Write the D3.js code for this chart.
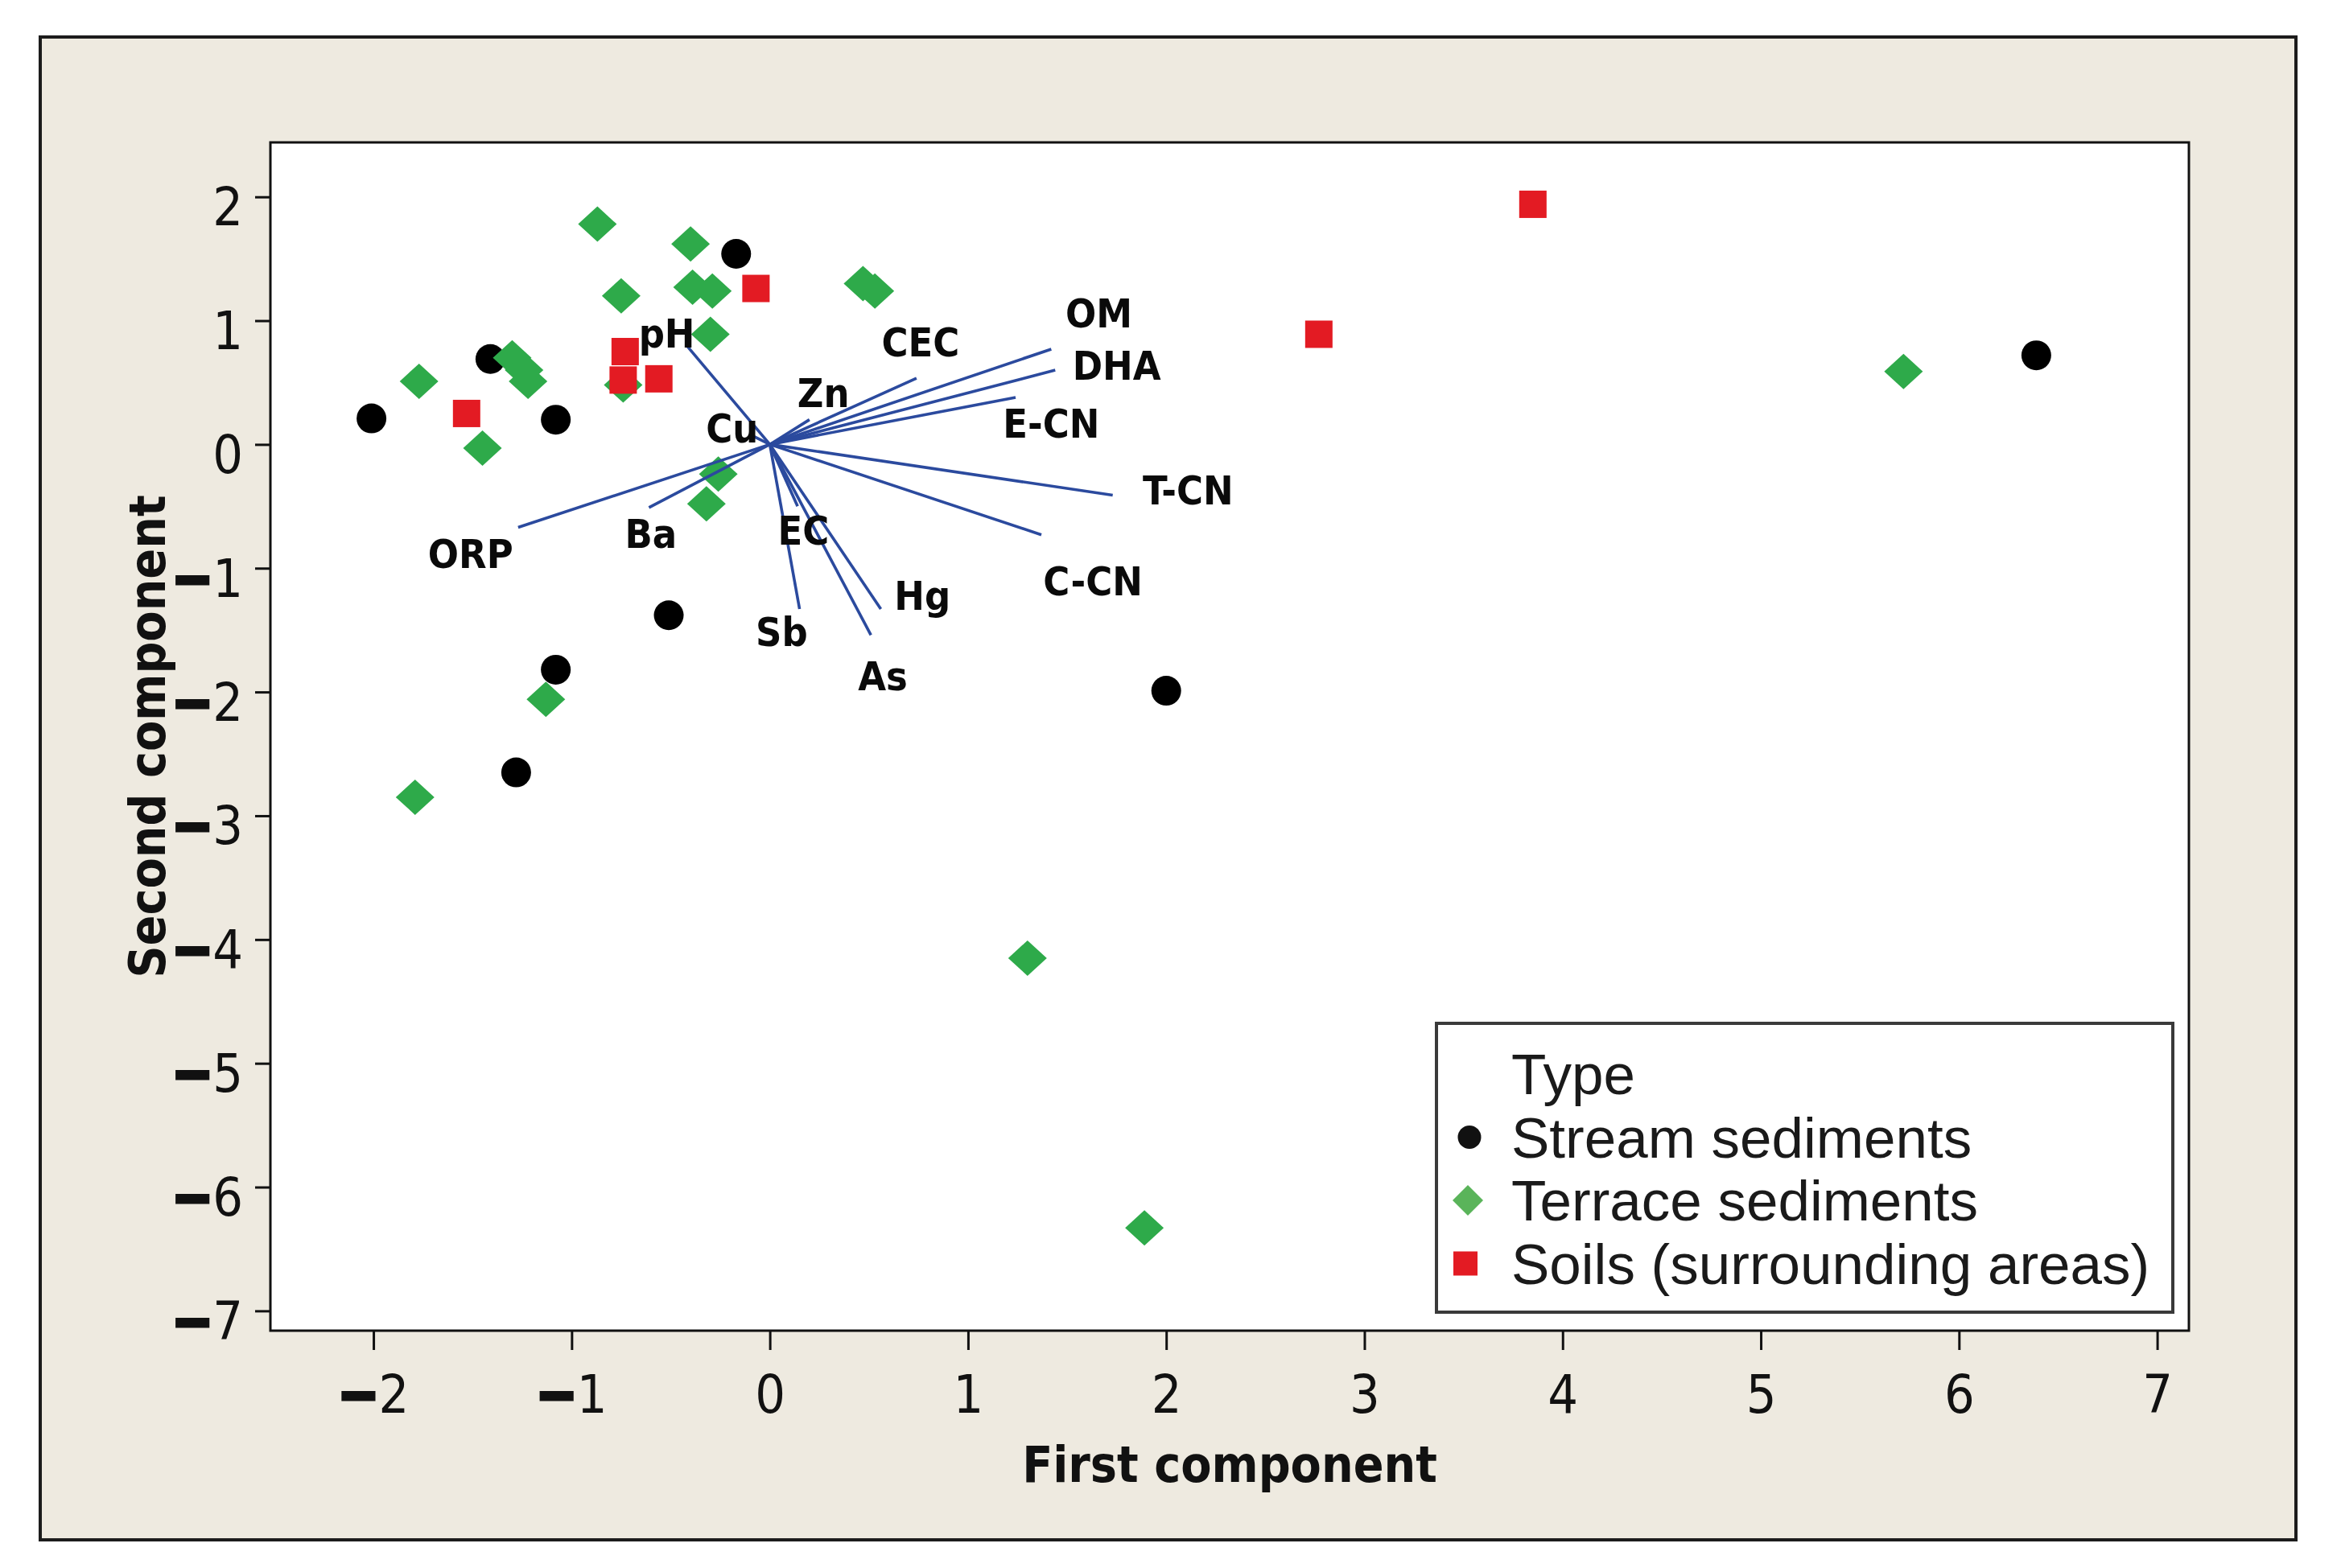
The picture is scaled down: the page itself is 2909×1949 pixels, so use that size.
<!DOCTYPE html>
<html>
<head>
<meta charset="utf-8">
<script src="https://cdn.jsdelivr.net/npm/d3@7"></script>
<style>
    body { margin: 0; background: #ffffff; }
    svg { display: block; }
</style>
</head>
<body>
<div id="chart"></div>
<script>
"use strict";

// scores: [first component, second component]
const streamSediments = [
    [-2.01, 0.21], [-1.41, 0.69], [-1.08, 0.20], [-0.17, 1.54],
    [-0.51, -1.38], [-1.08, -1.82], [-1.28, -2.65], [2.00, -1.99],
    [6.39, 0.72],
];

const terraceSediments = [
    [-0.87, 1.78], [-0.40, 1.62], [-0.75, 1.20], [-0.39, 1.27],
    [-0.29, 1.24], [-0.30, 0.89], [0.47, 1.30], [0.53, 1.24],
    [-1.77, 0.51], [-1.30, 0.70], [-1.24, 0.60], [-1.22, 0.51],
    [-1.45, -0.03], [-0.74, 0.48], [-0.26, -0.24], [-0.32, -0.48],
    [-1.13, -2.06], [-1.79, -2.85], [1.30, -4.15], [1.89, -6.33],
    [5.72, 0.59],
];

const soils = [
    [-0.07, 1.26], [-1.53, 0.25], [-0.73, 0.75], [-0.74, 0.52],
    [-0.56, 0.53], [2.77, 0.89], [3.85, 1.94],
];

// loading vectors (end points) and where their labels sit
const loadingNames = ["pH", "CEC", "OM", "DHA", "Zn", "E-CN", "Cu", "T-CN",
    "ORP", "Ba", "EC", "C-CN", "Hg", "Sb", "As"];
const loadingPc1 = [-0.42, 0.74, 1.42, 1.44, 0.20, 1.24, -0.10, 1.73,
    -1.27, -0.61, 0.14, 1.37, 0.56, 0.15, 0.51];
const loadingPc2 = [0.80, 0.535, 0.77, 0.60, 0.20, 0.38, 0.08, -0.41,
    -0.67, -0.51, -0.50, -0.73, -1.33, -1.33, -1.54];
const labelPc1 = [-0.52, 0.76, 1.66, 1.75, 0.27, 1.42, -0.19, 2.11,
    -1.51, -0.60, 0.17, 1.63, 0.77, 0.06, 0.57];
const labelPc2 = [0.90, 0.83, 1.06, 0.64, 0.42, 0.17, 0.13, -0.37,
    -0.88, -0.72, -0.69, -1.10, -1.22, -1.51, -1.87];

const xTicks = [-2, -1, 0, 1, 2, 3, 4, 5, 6, 7];
const yTicks = [2, 1, 0, -1, -2, -3, -4, -5, -6, -7];

const legendTitle = "Type";
const legendNames = ["Stream sediments", "Terrace sediments", "Soils (surrounding areas)"];

const W = 2909;
const H = 1949;
const PLOT = { left: 336, top: 177, right: 2720, bottom: 1654 };

const GREEN = "#2eaa4a";
const RED = "#e31b23";
const BLUE = "#2b4a9e";
const TICK_FONT = "'DejaVu Sans Condensed', 'DejaVu Sans', sans-serif";

let svg = d3.select("#chart").append("svg")
    .attr("width", W)
    .attr("height", H);

// outer frame
svg.append("rect")
    .attr("x", 50).attr("y", 46)
    .attr("width", 2803).attr("height", 1868)
    .attr("fill", "#eeeae0")
    .attr("stroke", "#1c1c1c")
    .attr("stroke-width", 4);

let xscale = d3.scaleLinear()
    .domain([-2.52, 7.16])
    .range([PLOT.left, PLOT.right]);

let yscale = d3.scaleLinear()
    .domain([-7.16, 2.44])
    .range([PLOT.bottom, PLOT.top]);

svg.append("rect")
    .attr("x", PLOT.left).attr("y", PLOT.top)
    .attr("width", PLOT.right - PLOT.left)
    .attr("height", PLOT.bottom - PLOT.top)
    .attr("fill", "#ffffff");


// Minitab draws the minus as a heavy bar
function signed_label(sel) {
    sel.each(function(d) {
        const t = d3.select(this);
        t.text(null);
        if (d < 0) {
            t.append("tspan")
                .attr("font-weight", "bold")
                .attr("stroke", "#111")
                .attr("stroke-width", 5)
                .text("\u2212");
        }
        t.append("tspan").text(Math.abs(d));
    });
}

let xaxis = svg.append("g")
    .attr("transform", `translate(0,${PLOT.bottom})`)
    .call(d3.axisBottom(xscale).tickValues(xTicks).tickSize(24).tickSizeOuter(0));

let yaxis = svg.append("g")
    .attr("transform", `translate(${PLOT.left},0)`)
    .call(d3.axisLeft(yscale).tickValues(yTicks).tickSize(19).tickSizeOuter(0));

[xaxis, yaxis].forEach(ax => {
    ax.select(".domain").remove();
    ax.selectAll(".tick line").attr("stroke", "#111").attr("stroke-width", 3);
    ax.selectAll(".tick text")
        .attr("fill", "#111")
        .style("font-family", TICK_FONT)
        .style("font-size", "66px")
        .call(signed_label);
});
xaxis.selectAll(".tick text").attr("y", 102).attr("dy", 0);
yaxis.selectAll(".tick text").attr("x", -34).attr("y", 35).attr("dy", 0);

// axis titles
svg.append("text")
    .attr("x", (PLOT.left + PLOT.right) / 2)
    .attr("y", 1842)
    .attr("text-anchor", "middle")
    .style("font-family", TICK_FONT)
    .style("font-weight", "bold")
    .style("font-size", "62px")
    .attr("fill", "#111")
    .text("First component");

svg.append("text")
    .attr("transform", `translate(205,${(PLOT.top + PLOT.bottom) / 2}) rotate(-90)`)
    .attr("text-anchor", "middle")
    .style("font-family", TICK_FONT)
    .style("font-weight", "bold")
    .style("font-size", "62px")
    .attr("fill", "#111")
    .text("Second component");


function diamond(hw, hh) {
    return `M0,${-hh}L${hw},0L0,${hh}L${-hw},0Z`;
}

let marks = svg.append("g");

marks.selectAll(".stream")
    .data(streamSediments)
    .enter().append("circle")
    .attr("class", "stream")
    .attr("cx", d => xscale(d[0]))
    .attr("cy", d => yscale(d[1]))
    .attr("r", 18.5)
    .attr("fill", "#000");

marks.selectAll(".terrace")
    .data(terraceSediments)
    .enter().append("path")
    .attr("class", "terrace")
    .attr("transform", d => `translate(${xscale(d[0])},${yscale(d[1])})`)
    .attr("d", diamond(24, 22))
    .attr("fill", GREEN);

marks.selectAll(".soil")
    .data(soils)
    .enter().append("rect")
    .attr("class", "soil")
    .attr("x", d => xscale(d[0]) - 17)
    .attr("y", d => yscale(d[1]) - 17)
    .attr("width", 34)
    .attr("height", 34)
    .attr("fill", RED);

// loading vectors
const loadings = loadingNames.map((name, i) => ({
    name: name,
    x: loadingPc1[i],
    y: loadingPc2[i],
    lx: labelPc1[i],
    ly: labelPc2[i],
}));

svg.append("g").selectAll("line")
    .data(loadings)
    .enter().append("line")
    .attr("x1", xscale(0))
    .attr("y1", yscale(0))
    .attr("x2", d => xscale(d.x))
    .attr("y2", d => yscale(d.y))
    .attr("stroke", BLUE)
    .attr("stroke-width", 3.6);

svg.append("g").selectAll("text")
    .data(loadings)
    .enter().append("text")
    .attr("x", d => xscale(d.lx))
    .attr("y", d => yscale(d.ly))
    .attr("dy", "0.36em")
    .attr("text-anchor", "middle")
    .style("font-family", TICK_FONT)
    .style("font-weight", "bold")
    .style("font-size", "50px")
    .attr("fill", "#0a0a0a")
    .text(d => d.name);

// plot border on top
svg.append("rect")
    .attr("x", PLOT.left).attr("y", PLOT.top)
    .attr("width", PLOT.right - PLOT.left)
    .attr("height", PLOT.bottom - PLOT.top)
    .attr("fill", "none")
    .attr("stroke", "#111")
    .attr("stroke-width", 3);

// legend
const LEG = { x: 1785, y: 1272, w: 915, h: 359, textX: 1878, symX: 1824, first: 1360, step: 78.5 };

let legend = svg.append("g");
legend.append("rect")
    .attr("x", LEG.x).attr("y", LEG.y)
    .attr("width", LEG.w).attr("height", LEG.h)
    .attr("fill", "#ffffff")
    .attr("stroke", "#3a3a3a")
    .attr("stroke-width", 4);

legend.append("text")
    .attr("x", LEG.textX)
    .attr("y", LEG.first)
    .style("font-family", "'Liberation Sans', Arial, sans-serif")
    .style("font-size", "71px")
    .attr("fill", "#1a1a1a")
    .text(legendTitle);

let items = legend.selectAll(".item")
    .data(legendNames)
    .enter().append("g")
    .attr("class", "item")
    .attr("transform", (d, i) => `translate(0,${LEG.first + (i + 1) * LEG.step})`);

items.append("text")
    .attr("x", LEG.textX)
    .style("font-family", "'Liberation Sans', Arial, sans-serif")
    .style("font-size", "71px")
    .attr("fill", "#1a1a1a")
    .text(d => d);

items.each(function(d, i) {
    const g = d3.select(this);
    if (i === 0) {
        g.append("circle").attr("cx", LEG.symX + 2).attr("cy", -25).attr("r", 14.5).attr("fill", "#111");
    } else if (i === 1) {
        g.append("path").attr("transform", `translate(${LEG.symX},-25)`)
            .attr("d", diamond(19, 19)).attr("fill", "#5ab45a");
    } else {
        g.append("rect").attr("x", LEG.symX - 18).attr("y", -40)
            .attr("width", 30).attr("height", 30).attr("fill", RED);
    }
});
</script>
</body>
</html>
